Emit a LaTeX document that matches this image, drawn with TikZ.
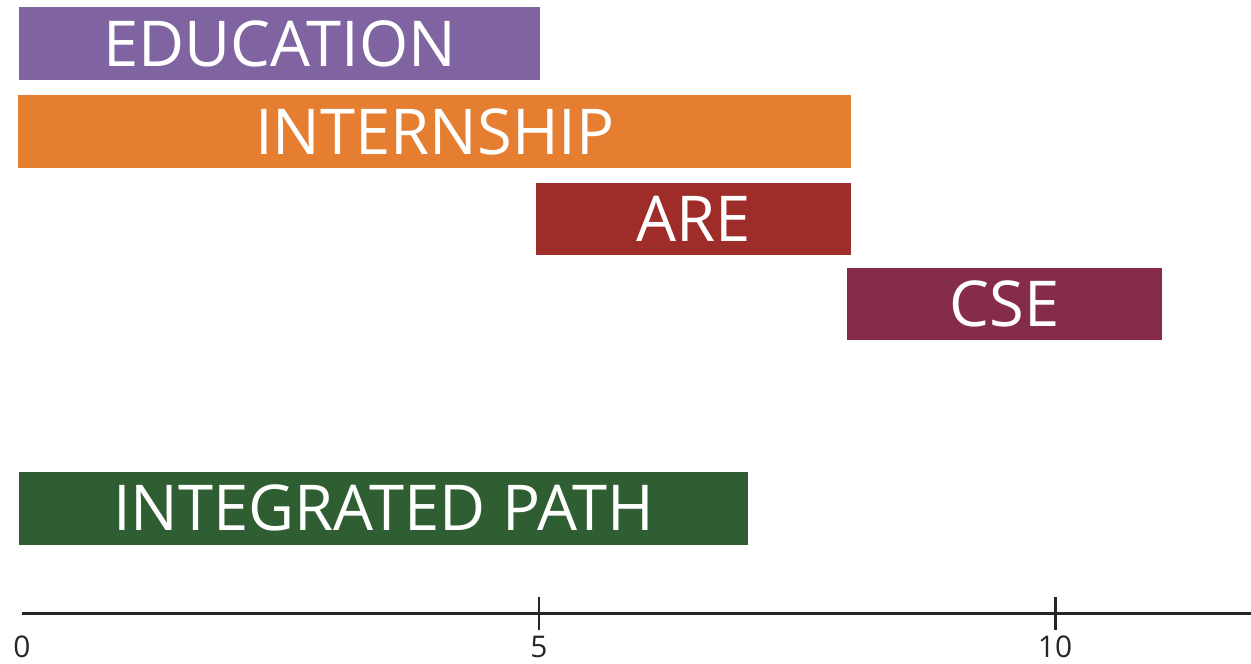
\documentclass[tikz,border=0pt]{standalone}
\usepackage{fontspec}
\setmainfont{Open Sans}
\usepackage{tikz}
\definecolor{eduColor}{RGB}{128,100,162}
\definecolor{internColor}{RGB}{229,126,48}
\definecolor{areColor}{RGB}{158,44,40}
\definecolor{cseColor}{RGB}{133,44,76}
\definecolor{pathColor}{RGB}{46,94,50}
\tikzstyle{bar} = [rectangle,inner sep=0pt,anchor=west,text=white,minimum height=1.46cm,font=\fontsize{36}{36}\selectfont]

\begin{document}
\begin{tikzpicture}
		[
		x=0.02cm,y=-0.02cm,
		axis/.style={line width=1.7pt,black!85},
		tick label/.style={inner sep=0pt,font=\fontsize{17}{17}\selectfont,black!85}
		]
		\useasboundingbox (0,0) rectangle (1251,663);
		% phases
		\node[bar,fill=eduColor,minimum width=10.42cm](education) at (19,43.5) {EDUCATION};
		\node[bar,fill=internColor,minimum width=16.66cm](internship) at (18,131.5) {INTERNSHIP};
		\node[bar,fill=areColor,minimum width=6.3cm](are) at (536,219) {ARE};
		\node[bar,fill=cseColor,minimum width=6.3cm](cse) at (847,304) {CSE};
		\node[bar,fill=pathColor,minimum width=14.58cm](path) at (19,508) {INTEGRATED PATH};
		% time axis
		\coordinate (axisStart) at (22,613);
		\coordinate (axisEnd) at (1251,613);
		\draw[axis] (axisStart) -- (axisEnd);
		\draw[axis] (539,597) -- (539,630);
		\draw[axis] (1055,597) -- (1055,630);
		\node[tick label](t0) at (22,647) {0};
		\node[tick label](t5) at (539,647) {5};
		\node[tick label](t10) at (1055,647) {10};
		\end{tikzpicture}
\end{document}
